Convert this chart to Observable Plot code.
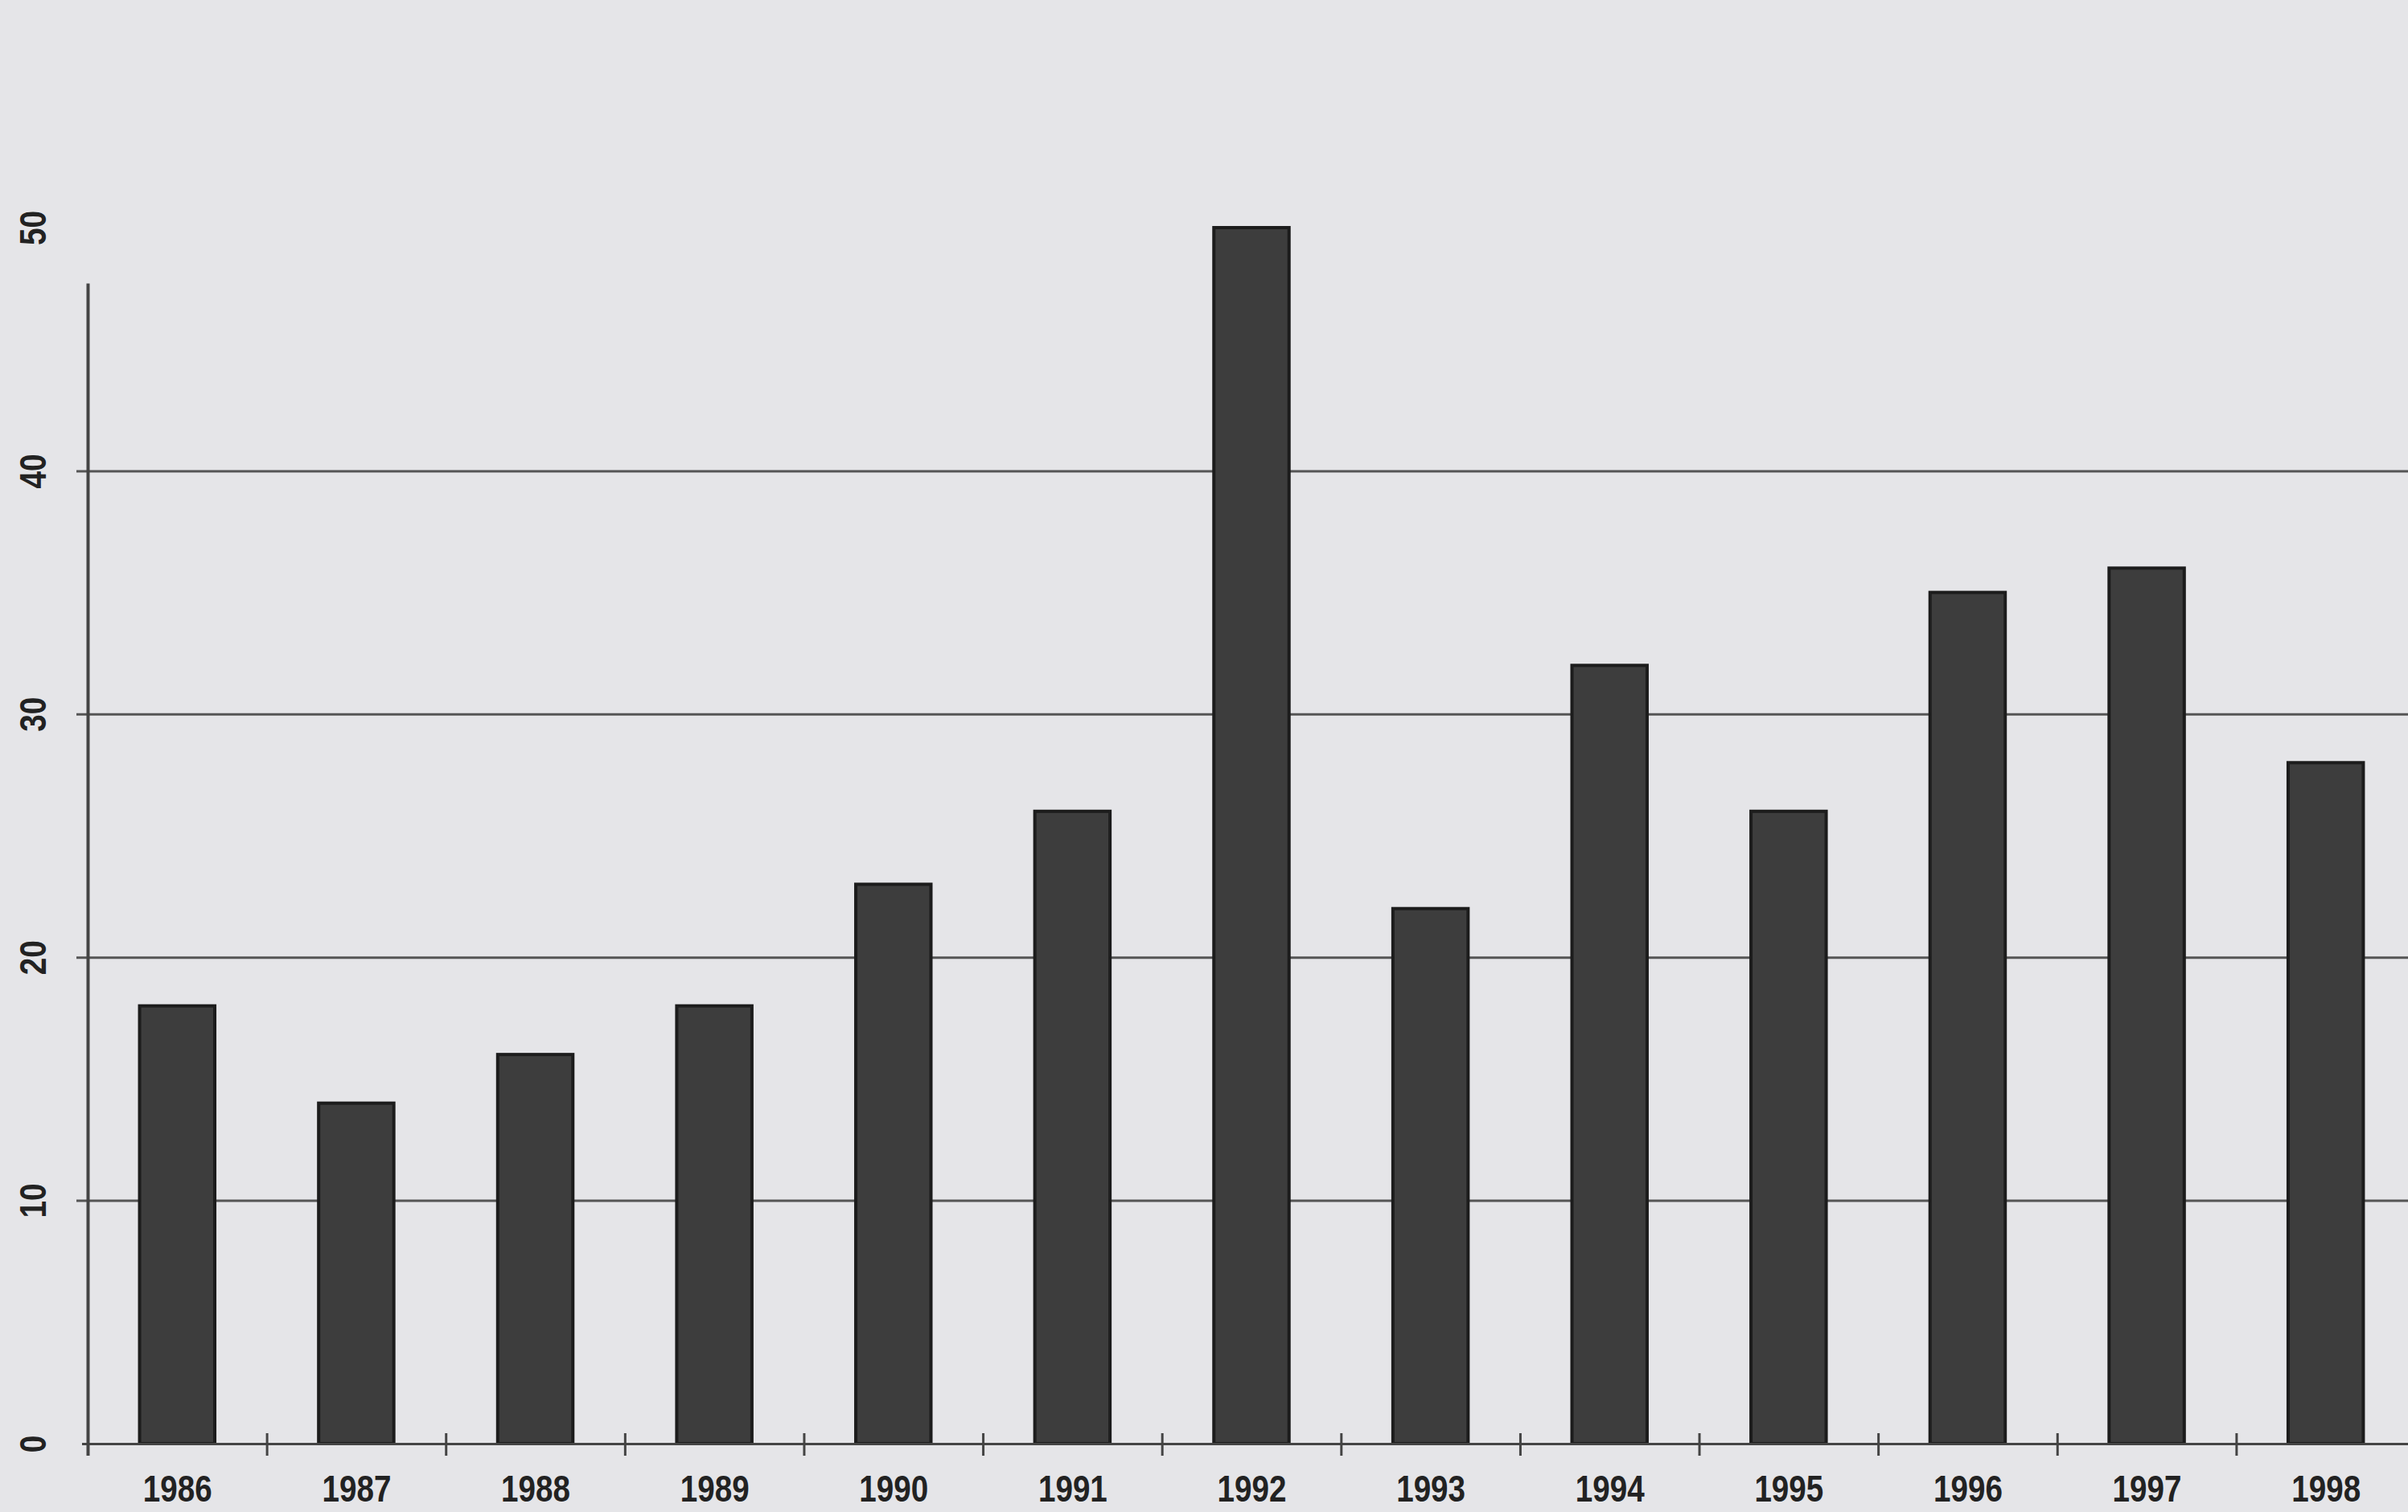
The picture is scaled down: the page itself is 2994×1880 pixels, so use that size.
<!DOCTYPE html>
<html><head><meta charset="utf-8">
<script src="https://cdn.jsdelivr.net/npm/d3@7"></script>
<script src="https://cdn.jsdelivr.net/npm/@observablehq/plot@0.6"></script>
<style>
html,body{margin:0;padding:0;background:#e5e5e8;}
#chart{width:2994px;height:1880px;overflow:hidden;}
</style></head><body><div id="chart"></div>
<script>
const years = [1986, 1987, 1988, 1989, 1990, 1991, 1992, 1993, 1994, 1995, 1996, 1997, 1998];
const values = [18, 14, 16, 18, 23, 26, 50, 22, 32, 26, 35, 36, 28];
const yTicks = [0, 10, 20, 30, 40, 50];
const gridValues = [10, 20, 30, 40];
const axisTop = 47.7;
const barHalfWidth = 0.21;

const data = years.map((year, i) => ({year, value: values[i]}));
const boundaries = years.slice(1).map(y => y - 0.5);
const font = '"Liberation Sans", Arial, sans-serif';

const chart = Plot.plot({
  width: 2994, height: 1880,
  marginLeft: 109, marginRight: -9, marginTop: 283, marginBottom: 85,
  style: {background: "#e5e5e8", fontFamily: font, fontWeight: "bold", fontSize: "46px", color: "#222"},
  x: {domain: [years[0] - 0.5, years[years.length - 1] + 0.5], axis: null},
  y: {domain: [0, 50], axis: null},
  marks: [
    Plot.ruleY(gridValues, {stroke: "#555", strokeWidth: 3, insetLeft: -14}),
    Plot.rectY(data, {x1: d => d.year - barHalfWidth, x2: d => d.year + barHalfWidth, y: "value", fill: "#3d3d3d", stroke: "#1c1c1c", strokeWidth: 4}),
    Plot.ruleY([0], {stroke: "#444", strokeWidth: 3, insetLeft: -7}),
    Plot.ruleX([years[0] - 0.5], {y1: axisTop, y2: 0, insetBottom: -15, stroke: "#444", strokeWidth: 4}),
    Plot.ruleX(boundaries, {y1: 0, y2: 0, insetTop: -13, insetBottom: -15, stroke: "#444", strokeWidth: 3}),
    Plot.text(years, {x: d => d, text: d => String(d), frameAnchor: "bottom", dy: 57, lineAnchor: "middle", fill: "#222"}),
    Plot.text(yTicks, {y: d => d, text: d => String(d), frameAnchor: "left", dx: -67, rotate: -90, textAnchor: "middle", lineAnchor: "middle", fill: "#222"})
  ]
});
d3.select(chart).selectAll("g[aria-label='text'] text").attr("transform", function () {
  return (this.getAttribute("transform") || "") + " scale(0.84,1)";
});
document.getElementById("chart").appendChild(chart);
</script>
</body></html>
